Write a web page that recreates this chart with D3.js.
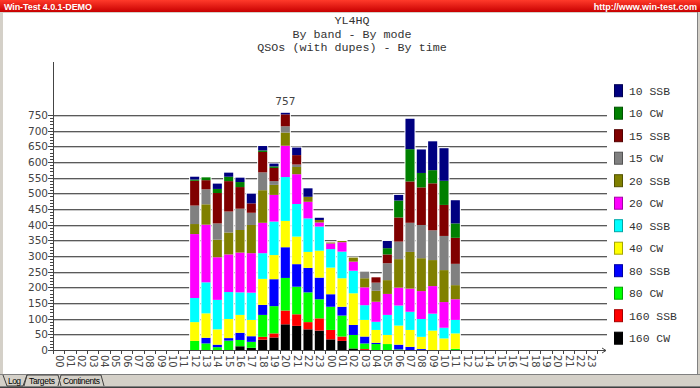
<!DOCTYPE html>
<html>
<head>
<meta charset="utf-8">
<script src="https://cdn.jsdelivr.net/npm/d3@7"></script>
<style>
  body { margin: 0; background: #d4d0c8; }
  svg { display: block; }
</style>
</head>
<body>
<svg id="chart" width="700" height="388"></svg>
<script>
// ---- data (QSOs per hour, hours 12 of day 1 .. 11 of day 2) ----
const hourLabels = d3.range(48).map(h => String(h % 24).padStart(2, "0"));
const firstBar = 12;
const titleLines = ["YL4HQ", "By band - By mode", "QSOs (with dupes) - By time"];
const yTicks = d3.range(0, 751, 50);

const cw160  = [0,0,0,0,12,7,33,40,82,77,66,62,34,29,5,0,0,0,0,0,0,0,0,0];
const ssb160 = [0,0,0,0,0,0,9,13,44,37,23,39,30,14,0,3,0,0,0,0,0,0,0,0];
const cw80   = [29,21,9,30,20,19,70,87,104,88,95,61,74,67,43,18,19,19,2,0,0,0,0,4];
const ssb80  = [0,18,8,8,23,18,32,86,98,72,78,69,40,28,32,22,4,0,15,10,3,0,0,0];
const cw40   = [60,78,49,61,57,52,83,77,84,88,51,86,85,91,101,53,41,29,61,54,39,62,37,49];
const ssb40  = [77,99,94,86,72,87,82,107,140,104,107,77,59,85,72,47,26,64,64,58,57,54,34,43];
const cw20   = [204,184,136,120,127,126,97,85,100,95,53,13,18,30,29,57,64,67,57,74,89,88,82,66];
const ssb20  = [32,65,56,70,72,90,104,32,42,23,16,8,3,4,13,29,35,44,91,117,105,83,102,45];
const cw15   = [59,48,52,67,68,39,57,12,20,8,0,0,0,0,0,21,26,54,56,93,106,95,109,68];
const ssb15  = [79,29,97,97,69,30,65,42,38,30,0,0,0,0,0,0,17,28,77,132,120,150,99,83];
const cw10   = [4,9,13,14,16,0,5,5,0,0,0,0,0,0,0,0,0,20,54,103,46,42,77,46];
const ssb10  = [9,0,17,13,14,31,14,9,5,24,27,7,0,0,0,0,0,23,18,97,75,92,104,74];

const seriesNames = ["160 CW","160 SSB","80 CW","80 SSB","40 CW","40 SSB",
                     "20 CW","20 SSB","15 CW","15 SSB","10 CW","10 SSB"];
const seriesValues = [cw160, ssb160, cw80, ssb80, cw40, ssb40, cw20, ssb20, cw15, ssb15, cw10, ssb10];
const seriesColors = ["#000000","#ff0000","#00ff00","#0000ff","#ffff00","#00ffff",
                      "#ff00ff","#808000","#808080","#800000","#008000","#000080"];

// table for d3.stack
const rows = cw160.map((_, i) => {
  const r = { hour: i + firstBar };
  seriesNames.forEach((n, k) => r[n] = seriesValues[k][i]);
  return r;
});

const svg = d3.select("#chart");

// window frame
const grad = svg.append("defs").append("linearGradient")
  .attr("id", "hdr").attr("x1", 0).attr("y1", 0).attr("x2", 0).attr("y2", 1);
grad.append("stop").attr("offset", "0%").attr("stop-color", "#ff3a2a");
grad.append("stop").attr("offset", "100%").attr("stop-color", "#c80000");

svg.append("rect").attr("x", 0).attr("y", 0).attr("width", 700).attr("height", 12)
  .attr("fill", "url(#hdr)");
svg.append("text").attr("x", 4).attr("y", 9.5)
  .attr("font-family", "Liberation Sans, Arial, sans-serif").attr("font-size", 9)
  .attr("font-weight", "bold").attr("fill", "#fff")
  .attr("textLength", 88).text("Win-Test 4.0.1-DEMO");
svg.append("text").attr("x", 697).attr("y", 9.5).attr("text-anchor", "end")
  .attr("font-family", "Liberation Sans, Arial, sans-serif").attr("font-size", 9)
  .attr("font-weight", "bold").attr("fill", "#fff")
  .text("http://www.win-test.com");

svg.append("rect").attr("x", 3).attr("y", 13).attr("width", 694).attr("height", 361)
  .attr("fill", "#fff");
svg.append("line").attr("x1", 697.5).attr("x2", 697.5).attr("y1", 12).attr("y2", 374)
  .attr("stroke", "#808080");
svg.append("line").attr("x1", 0).attr("x2", 700).attr("y1", 374.5).attr("y2", 374.5)
  .attr("stroke", "#808080");
svg.append("line").attr("x1", 0).attr("x2", 700).attr("y1", 386.5).attr("y2", 386.5)
  .attr("stroke", "#808080");
svg.append("line").attr("x1", 0).attr("x2", 700).attr("y1", 387.5).attr("y2", 387.5)
  .attr("stroke", "#404040");

// tabs
svg.append("path")
  .attr("d", "M3,375 L7,386 L23,386 L27,375 M27,375 L24,386 M27,375 L58,375 L61,386 M61,375 L58,386 M61,375 L101,375 L104,386")
  .attr("fill", "none").attr("stroke", "#404040");
const tabs = [["Log", 8, 13], ["Targets", 29, 26], ["Continents", 63, 37]];
svg.selectAll(".tab").data(tabs).join("text")
  .attr("x", d => d[1]).attr("y", 384)
  .attr("font-family", "Liberation Sans, Arial, sans-serif").attr("font-size", 8.5)
  .attr("textLength", d => d[2])
  .attr("fill", "#000").text(d => d[0]);

// titles
svg.selectAll(".title").data(titleLines).join("text")
  .attr("x", 352).attr("y", (d, i) => 24 + i * 13.5)
  .attr("text-anchor", "middle")
  .attr("font-family", "Liberation Mono, Courier New, monospace").attr("font-size", 11.7)
  .attr("fill", "#333").text(d => d);

// scales
const x = d3.scaleBand().domain(d3.range(48)).range([53, 597])
  .paddingInner(0.2).paddingOuter(0.1);
const y = d3.scaleLinear().domain([0, 750]).range([350, 115]);
const step = x.step();

// gridlines
const grid = svg.append("g");
grid.selectAll(".g1").data(yTicks.slice(1)).join("line")
  .attr("x1", 53).attr("x2", 607)
  .attr("y1", d => Math.round(y(d)) + 0.5).attr("y2", d => Math.round(y(d)) + 0.5)
  .attr("stroke", "#5a5a5a");
grid.selectAll(".g2").data(yTicks.slice(1)).join("line")
  .attr("x1", 53).attr("x2", 607)
  .attr("y1", d => Math.round(y(d)) + 1.5).attr("y2", d => Math.round(y(d)) + 1.5)
  .attr("stroke", "#c8c8c8");

// stacked bars
const stack = d3.stack().keys(seriesNames)(rows);
const totals = rows.map(r => d3.sum(seriesNames, n => r[n]));

svg.append("g").selectAll("rect").data(rows).join("rect")
  .attr("x", d => x(d.hour) - 1)
  .attr("width", x.bandwidth() + 2)
  .attr("y", (d, i) => y(totals[i]) - 1)
  .attr("height", (d, i) => y(0) - y(totals[i]) + 1)
  .attr("fill", "#fff");

svg.append("g").selectAll("g").data(stack).join("g")
  .attr("fill", (d, i) => seriesColors[i])
  .selectAll("rect").data(d => d).join("rect")
  .attr("x", d => x(d.data.hour))
  .attr("width", x.bandwidth())
  .attr("y", d => y(d[1]))
  .attr("height", d => y(d[0]) - y(d[1]));

// peak label
const peak = d3.maxIndex(totals);
svg.append("text")
  .attr("x", x(rows[peak].hour) + x.bandwidth() / 2)
  .attr("y", y(totals[peak]) - 8)
  .attr("text-anchor", "middle")
  .attr("font-family", "DejaVu Sans, Verdana, sans-serif").attr("font-size", 10.5)
  .attr("fill", "#444").text(totals[peak]);

// axes
const axisColor = "#444";
svg.append("line").attr("x1", 53.5).attr("x2", 53.5).attr("y1", 62).attr("y2", 350)
  .attr("stroke", axisColor);
svg.append("path").attr("d", "M53,350.5 H606 M602,348 L606,350.5 L602,353")
  .attr("fill", "none").attr("stroke", axisColor);

svg.append("g").selectAll("line").data(d3.range(0, 751, 10)).join("line")
  .attr("x1", d => d % 50 === 0 ? 48 : 50).attr("x2", 53)
  .attr("y1", d => Math.round(y(d)) + 0.5).attr("y2", d => Math.round(y(d)) + 0.5)
  .attr("stroke", axisColor);

svg.append("g").selectAll("text").data(yTicks).join("text")
  .attr("x", 48).attr("y", d => y(d) + 4)
  .attr("text-anchor", "end")
  .attr("font-family", "DejaVu Sans, Verdana, sans-serif").attr("font-size", 10.5)
  .attr("fill", "#444").text(d => d);

svg.append("g").selectAll("line").data(d3.range(49)).join("line")
  .attr("x1", i => Math.round(53 + i * step) + 0.5).attr("x2", i => Math.round(53 + i * step) + 0.5)
  .attr("y1", 350).attr("y2", 354)
  .attr("stroke", axisColor);

svg.append("g").selectAll("text").data(d3.range(48)).join("text")
  .attr("transform", i => `translate(${x(i) + x.bandwidth() / 2 + 0.5},355) rotate(90)`)
  .attr("dominant-baseline", "central")
  .attr("font-family", "DejaVu Sans, Verdana, sans-serif").attr("font-size", 10)
  .attr("fill", "#444").text(i => hourLabels[i]);

// legend (top = last series)
const legend = svg.append("g").selectAll("g")
  .data(seriesNames.map((n, i) => ({ name: n, color: seriesColors[i] })).reverse())
  .join("g")
  .attr("transform", (d, i) => `translate(614,${90.7 + i * 22.5})`);
legend.append("rect")
  .attr("x", 0.5).attr("y", -6).attr("width", 8).attr("height", 12)
  .attr("fill", d => d.color)
  .attr("stroke", d => d3.color(d.color).darker(1.2));
legend.append("text")
  .attr("x", 15).attr("y", 4)
  .attr("font-family", "Liberation Mono, Courier New, monospace").attr("font-size", 11.4)
  .attr("fill", "#333").text(d => d.name);
</script>
</body>
</html>
